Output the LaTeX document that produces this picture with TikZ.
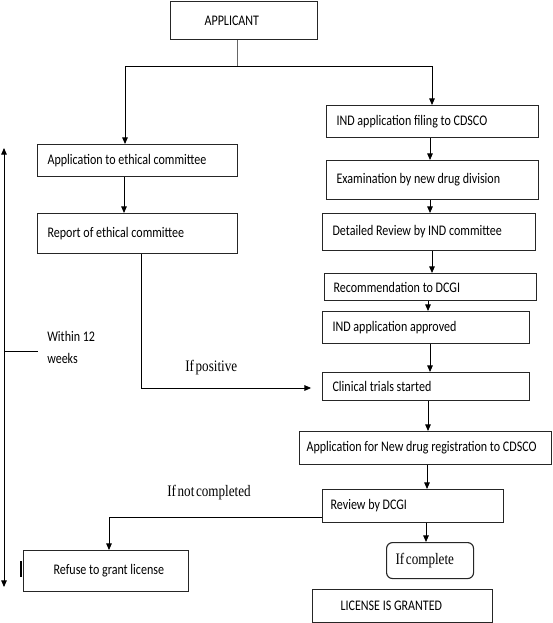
\documentclass[tikz,border=0pt]{standalone}
\usepackage{fontspec}
\setmainfont{Carlito}[FakeStretch=0.82]
\newfontfamily\serifc{Liberation Serif}[FakeStretch=0.82,WordSpace=0.5]
\usetikzlibrary{arrows.meta}
\newcommand\flowbox[8]{%
  \pgfmathsetlengthmacro\bw{(#5-#3)*0.75pt}%
  \pgfmathsetlengthmacro\bh{(#6-#4)*0.75pt}%
  \pgfmathsetlengthmacro\tw{(#5-#3-2*#7)*0.75pt}%
  \pgfmathsetlengthmacro\px{#7*0.75pt}%
  \node[box,#1,minimum width=\bw,minimum height=\bh,inner xsep=\px,anchor=north west] (#2) at (#3,#4) {\makebox[\tw][l]{#8}};%
}
\begin{document}
\begin{tikzpicture}[x=0.75pt,y=-0.75pt,
  box/.style={draw=black!85,line width=0.85pt,inner ysep=0pt,font=\fontsize{11}{13}\selectfont},
  rnd/.style={rounded corners=4.5pt},
  sertext/.style={font=\serifc\fontsize{12}{14}\selectfont,inner sep=0pt,anchor=west},
  plain/.style={font=\fontsize{11}{16.5}\selectfont,inner sep=0pt,anchor=west,align=left},
  conn/.style={line width=0.65pt,black},
  arr/.style={conn,-{Triangle[length=5pt,width=4.2pt]}},
  darr/.style={conn,{Triangle[length=5pt,width=4.2pt]}-{Triangle[length=5pt,width=4.2pt]}}]
\useasboundingbox (0,0) rectangle (552,623);

% boxes: style, name, left, top, right, bottom, pad, text
\flowbox{}{applicant}{170}{1}{317}{39}{34}{APPLICANT}
\flowbox{}{appeth}{37}{144}{237}{176}{10}{Application to ethical committee}
\flowbox{}{repeth}{37}{213}{237}{253}{10}{Report of ethical committee}
\flowbox{}{ind}{326}{105}{538}{137}{10}{IND application filing to CDSCO}
\flowbox{}{exam}{326}{160}{538}{199}{10}{Examination by new drug division}
\flowbox{}{detail}{322}{213}{535}{250}{10}{Detailed Review by IND committee}
\flowbox{}{recom}{324}{273}{536}{300}{9}{Recommendation to DCGI}
\flowbox{}{approved}{322}{311}{529}{343}{10}{IND application approved}
\flowbox{}{clinical}{322}{372}{529}{400}{10}{Clinical trials started}
\flowbox{}{newdrug}{299}{431}{551}{464}{7}{Application for New drug registration to CDSCO}
\flowbox{}{review}{322}{489}{503}{522}{8}{Review by DCGI}
\flowbox{rnd}{complete}{386}{542}{473}{578}{9}{\serifc\fontsize{12}{14}\selectfont If complete}
\flowbox{}{license}{312}{589}{492}{622}{28}{LICENSE IS GRANTED}
\flowbox{}{refuse}{23}{550}{188}{591}{30}{Refuse to grant license}

% labels
\node[sertext] (ifpos) at (185,368) {If positive};
\node[sertext] (ifnot) at (167,493) {If not completed};
\node[plain] (within) at (47,347) {Within 12\\weeks};

% applicant split
\coordinate (sp) at (237,66);
\draw[conn,black!60,line width=0.6pt] (applicant.south -| sp) -- (sp);
\draw[arr] (sp) -| (appeth.north -| 125,0);
\draw[arr] (sp) -| (ind.north -| 432,0);

% left column
\draw[arr] (appeth.south -| 124,0) -- (repeth.north -| 124,0);
\draw[arr,shorten >=8.2pt] (repeth.south -| 141,0) |- (clinical.west |- 0,388);

% right column
\draw[arr] (ind.south -| 430,0) -- (exam.north -| 430,0);
\draw[arr] (exam.south -| 430,0) -- (detail.north -| 430,0);
\draw[arr] (detail.south -| 432,0) -- (recom.north -| 432,0);
\draw[arr] (recom.south -| 428,0) -- (approved.north -| 428,0);
\draw[arr] (approved.south -| 430,0) -- (clinical.north -| 430,0);
\draw[arr] (clinical.south -| 428,0) -- (newdrug.north -| 428,0);
\draw[arr] (newdrug.south -| 427,0) -- (review.north -| 427,0);
\draw[arr] (review.south -| 426,0) -- (complete.north -| 426,0);
\draw[arr] (review.west |- 0,517) -| (refuse.north -| 109,0);

% time span arrow
\coordinate (ltop) at (4,148);
\coordinate (lbot) at (4,587);
\coordinate (lmid) at (4,351);
\coordinate (wend) at (38,351);
\draw[darr] (ltop) -- (lbot);
\draw[conn] (lmid) -- (wend);

% cursor mark
\coordinate (cm1) at (21,561);
\coordinate (cm2) at (21,577);
\draw[line width=1.1pt] (cm1) -- (cm2);
\end{tikzpicture}
\end{document}
